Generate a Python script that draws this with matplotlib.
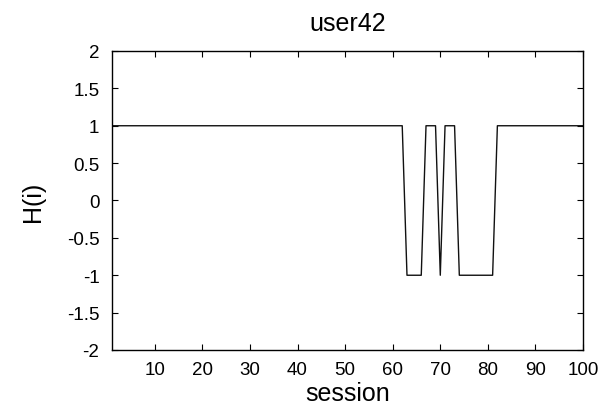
import matplotlib
matplotlib.use("Agg")
import matplotlib.pyplot as plt

plt.rcParams['font.family'] = ['Liberation Sans', 'DejaVu Sans']

# H(i) per session
sessions = list(range(1, 101))
h_values = ([1] * 62 + [-1] * 4 + [1] * 3 + [-1] + [1] * 3 + [-1] * 8 + [1] * 19)

xticks = [10, 20, 30, 40, 50, 60, 70, 80, 90, 100]
yticks = [-2, -1.5, -1, -0.5, 0, 0.5, 1, 1.5, 2]
ytick_labels = ['-2', '-1.5', '-1', '-0.5', '0', '0.5', '1', '1.5', '2']

fig = plt.figure(figsize=(6.13, 4.14), dpi=100)
ax = fig.add_axes([0.1827, 0.1522, 0.7684, 0.7222])

ax.plot(sessions, h_values, color='#111111', linewidth=1.0)

ax.set_xlim(1, 100)
ax.set_ylim(-2, 2)
ax.set_xticks(xticks)
ax.set_yticks(yticks)
ax.set_yticklabels(ytick_labels)
ax.tick_params(direction='in', top=True, right=True, length=4.5, width=0.8,
               labelsize=13.5)
ax.tick_params(axis='x', pad=8)
ax.tick_params(axis='y', pad=9)
for s in ax.spines.values():
    s.set_linewidth(1.0)

ax.set_xlabel('session', fontsize=18, labelpad=2)
ax.set_ylabel('H(i)', fontsize=18, labelpad=16)
ax.set_title('user42', fontsize=18, pad=15)

fig.savefig('out.png', dpi=100)
